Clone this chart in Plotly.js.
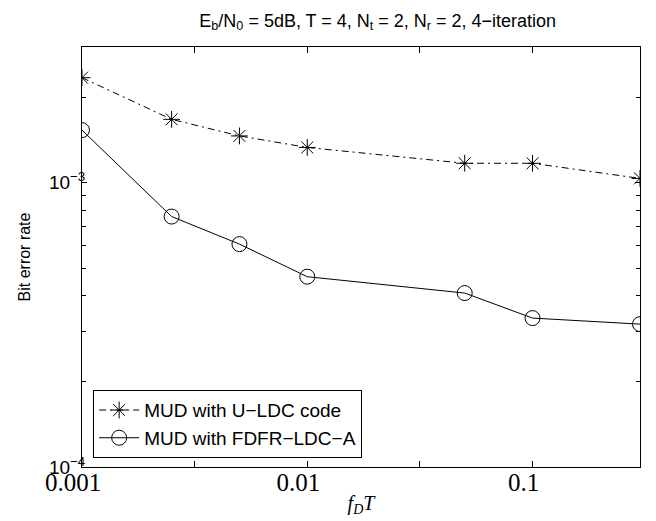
<!DOCTYPE html>
<html>
<head>
<meta charset="utf-8">
<script src="https://cdn.plot.ly/plotly-3.0.1.min.js"></script>
<style>html,body{margin:0;padding:0;background:#fff;}#chart{width:656px;height:521px;}</style>
</head>
<body>
<div id="chart"></div>
<script>
// Data
const fdT = [0.001, 0.0025, 0.005, 0.01, 0.05, 0.1, 0.3];
const berULDC = [2.34e-3, 1.67e-3, 1.46e-3, 1.33e-3, 1.17e-3, 1.17e-3, 1.035e-3];
const berFDFR = [1.53e-3, 7.6e-4, 6.08e-4, 4.67e-4, 4.09e-4, 3.34e-4, 3.18e-4];
const seriesNames = ['MUD with U\u2212LDC code', 'MUD with FDFR\u2212LDC\u2212A'];
const xTickVals = [0.001, 0.0031623, 0.01, 0.031623, 0.1];
const xTickText = ['0.001', '', '0.01', '', '0.1'];
const yTickVals = [1e-4, 1e-3];
const yTickText = ['10<sup>\u22124</sup>', '10<sup>\u22123</sup>'];
const yMinorVals = [2e-4,3e-4,4e-4,5e-4,6e-4,7e-4,8e-4,9e-4,2e-3,3e-3];

const traces = [
  {
    x: fdT, y: berULDC, name: seriesNames[0], type: 'scatter', mode: 'lines+markers',
    line: {color: '#000', width: 1, dash: '7px,4px,2px,4px'},
    marker: {symbol: 'asterisk-open', size: 14, color: '#000', line: {color: '#000', width: 1}}
  },
  {
    x: fdT, y: berFDFR, name: seriesNames[1], type: 'scatter', mode: 'lines+markers',
    line: {color: '#000', width: 1},
    marker: {symbol: 'circle-open', size: 15, color: '#000', line: {color: '#000', width: 1}}
  }
];

const layout = {
  width: 656, height: 521,
  margin: {l: 82, r: 16, t: 47, b: 54},
  paper_bgcolor: '#fff', plot_bgcolor: '#fff',
  showlegend: true,
  title: {
    text: 'E<sub>b</sub>/N<sub>0</sub> = 5dB, T = 4, N<sub>t</sub> = 2, N<sub>r</sub> = 2, 4\u2212iteration',
    font: {family: 'Liberation Sans, Arial, sans-serif', size: 18, color: '#000'},
    x: 0.53, xref: 'paper', xanchor: 'center', y: 1, yref: 'container', yanchor: 'top', pad: {t: 14}
  },
  xaxis: {
    type: 'log', range: [-3, Math.log10(0.3)],
    tickmode: 'array', tickvals: xTickVals, ticktext: xTickText,
    ticks: 'inside', ticklen: 6, tickcolor: '#000', tickwidth: 1,
    showline: true, linecolor: '#000', linewidth: 1, mirror: 'ticks',
    showgrid: false, zeroline: false,
    ticklabelshift: -9, ticklabelstandoff: -7,
    tickfont: {family: 'Liberation Serif, Times New Roman, serif', size: 25, color: '#000'},
    title: {
      text: '<i>f</i><sub><i>D</i></sub><i>T</i>',
      font: {family: 'Liberation Serif, Times New Roman, serif', size: 20, color: '#000'},
      standoff: 0
    }
  },
  yaxis: {
    type: 'log', range: [-4, Math.log10(3e-3)],
    tickmode: 'array', tickvals: yTickVals, ticktext: yTickText,
    ticks: 'inside', ticklen: 5, tickcolor: '#000', tickwidth: 1,
    showline: true, linecolor: '#000', linewidth: 1, mirror: 'ticks',
    showgrid: false, zeroline: false,
    ticklabelstandoff: -8,
    minor: {tickmode: 'array', tickvals: yMinorVals, ticks: 'inside', ticklen: 4, tickcolor: '#000', showgrid: false},
    tickfont: {family: 'Liberation Sans, Arial, sans-serif', size: 19, color: '#000'},
    title: {
      text: 'Bit error rate',
      font: {family: 'Liberation Sans, Arial, sans-serif', size: 16, color: '#000'},
      standoff: 14
    }
  },
  legend: {
    x: 0.02, y: 0.021, xanchor: 'left', yanchor: 'bottom',
    bgcolor: '#fff', bordercolor: '#000', borderwidth: 1,
    font: {family: 'Liberation Sans, Arial, sans-serif', size: 19, color: '#000'},
    tracegroupgap: 0, itemwidth: 40
  }
};

Plotly.newPlot('chart', traces, layout, {displayModeBar: false, staticPlot: true});
</script>
</body>
</html>
